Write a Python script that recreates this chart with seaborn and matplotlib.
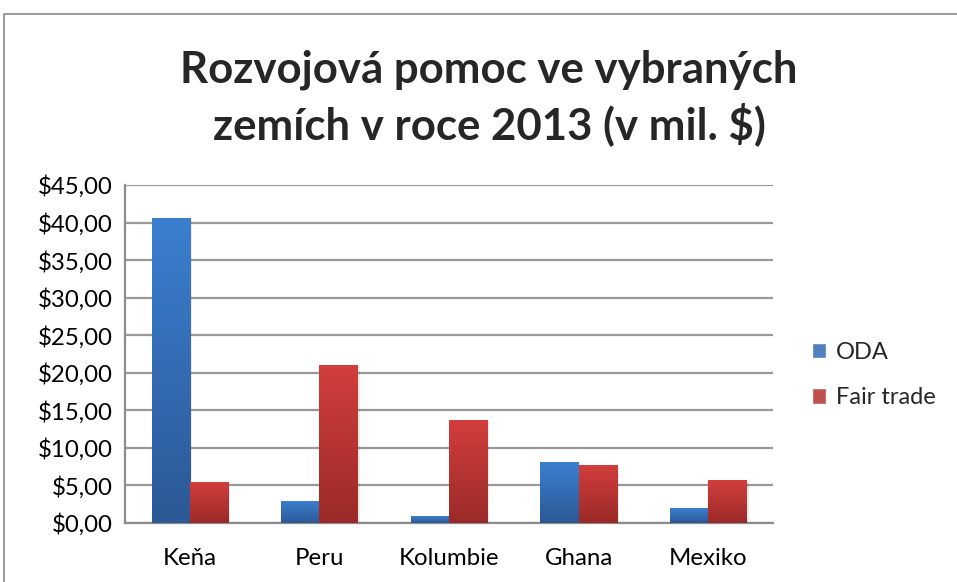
import numpy as np
import pandas as pd
import seaborn as sns
import matplotlib.pyplot as plt
from matplotlib.colors import LinearSegmentedColormap
from matplotlib.patches import Rectangle
from matplotlib.ticker import FuncFormatter

# data (mil. $)
countries = ['Keňa', 'Peru', 'Kolumbie', 'Ghana', 'Mexiko']
oda = [40.5, 2.9, 0.9, 8.0, 1.9]
fair_trade = [5.4, 21.0, 13.6, 7.6, 5.6]
series = ['ODA', 'Fair trade']

df = pd.DataFrame({
    'zeme': countries * 2,
    'hodnota': oda + fair_trade,
    'rada': [series[0]] * len(countries) + [series[1]] * len(countries),
})

sns.set_style('white')
plt.rcParams['font.family'] = ['Lato', 'DejaVu Sans']

# top / bottom colours of the gradient fill
grad_cols = {'ODA': ('#3b7fd0', '#2c5895'), 'Fair trade': ('#d23e3b', '#9a2a28')}

fig = plt.figure(figsize=(9.57, 5.82), dpi=100)
ax = fig.add_axes([0.1306, 0.1014, 0.677, 0.5808])

sns.barplot(data=df, x='zeme', y='hodnota', hue='rada', order=countries,
            hue_order=series, palette=[grad_cols[s][0] for s in series],
            width=0.59, gap=0, ax=ax, legend=True, zorder=3)

# gradient fill of the bars
grad = np.linspace(0, 1, 256).reshape(-1, 1)
n = len(countries)
for i, patch in enumerate(ax.patches[:2 * n]):
    s = series[i // n]
    cmap = LinearSegmentedColormap.from_list(s, [grad_cols[s][1], grad_cols[s][0]])
    x, y = patch.get_x(), patch.get_y()
    w, h = patch.get_width(), patch.get_height()
    # soft shadow
    ax.add_patch(Rectangle((x + w * 0.06, y), w, h, color='black',
                           alpha=0.08, zorder=2, lw=0))
    ax.imshow(grad, extent=[x, x + w, y, y + h], origin='lower', cmap=cmap,
              aspect='auto', zorder=4)
    patch.set_alpha(0)

ax.set_xlim(-0.5, n - 0.5)
ax.set_ylim(0, 45)
ax.set_yticks(np.arange(0, 46, 5))
ax.yaxis.set_major_formatter(FuncFormatter(lambda v, p: '$' + f'{v:.2f}'.replace('.', ',')))
ax.grid(axis='y', color='#999999', lw=1.6, zorder=0)
ax.set_axisbelow(True)
for side in ['top', 'right']:
    ax.spines[side].set_visible(False)
for side in ['left', 'bottom']:
    ax.spines[side].set_color('#8c8c8c')
    ax.spines[side].set_linewidth(1.6)
ax.tick_params(axis='both', length=0, labelsize=17.3, colors='black')
ax.tick_params(axis='y', pad=9)
ax.tick_params(axis='x', pad=18)
ax.set_xlabel('')
ax.set_ylabel('')

# legend on the right
handles, labels = ax.get_legend_handles_labels()
leg = ax.legend(handles, labels, loc='center left', bbox_to_anchor=(1.06, 0.438),
                frameon=False, fontsize=17, handlelength=0.62, handleheight=0.62,
                handletextpad=0.4, labelspacing=1.05, borderaxespad=0, borderpad=0)

fig.text(0.511, 0.832, 'Rozvojová pomoc ve vybraných\nzemích v roce 2013 (v mil. $)',
         ha='center', va='center', fontsize=31.5, fontweight='bold', linespacing=1.32)

# chart area border
fig.add_artist(Rectangle((4 / 957, -0.1), 1.2, 1 - 14 / 582 + 0.1, transform=fig.transFigure,
                         fill=False, ec='#8a8a8a', lw=1.2))

fig.savefig('out.png', dpi=100)
